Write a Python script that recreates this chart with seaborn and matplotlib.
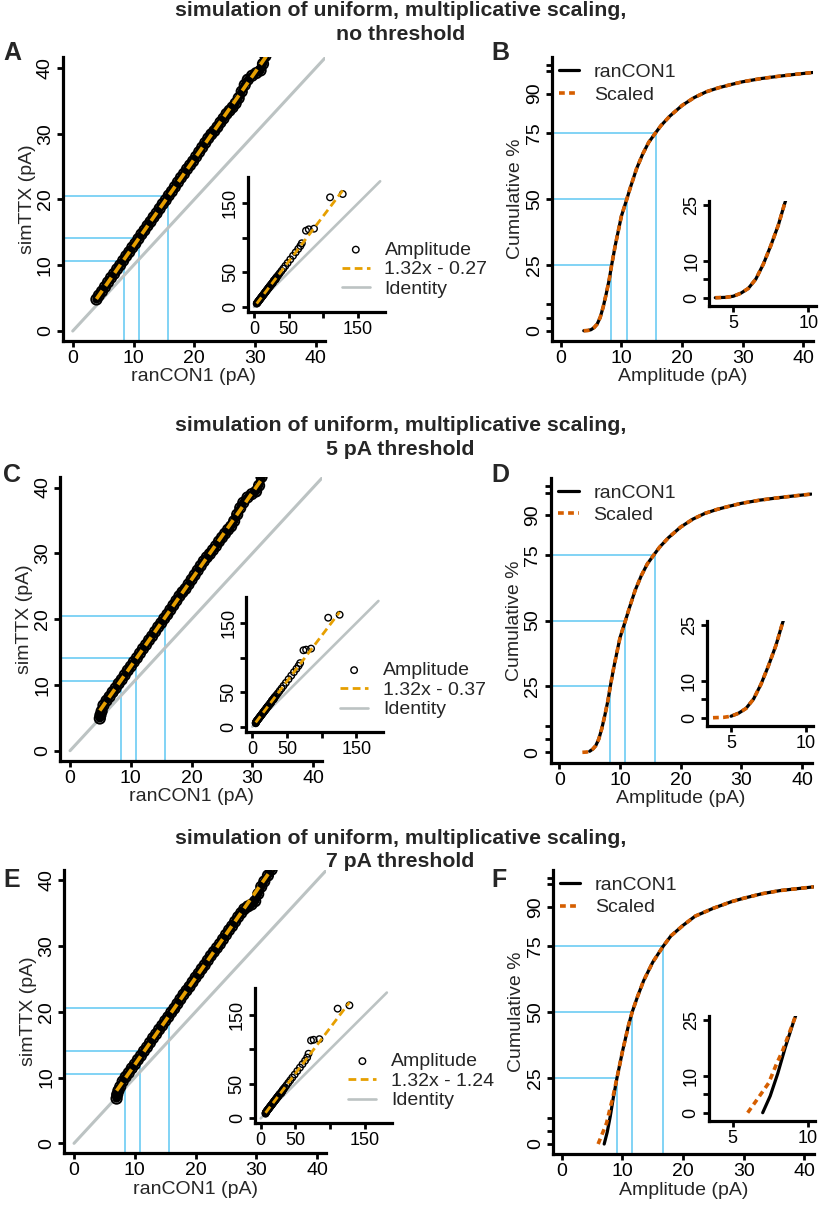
import numpy as np
import matplotlib
matplotlib.use('Agg')
import matplotlib.pyplot as plt
import seaborn as sns

# ---- Q-Q data: ranCON1 amplitudes (x) vs simulated TTX amplitudes (y) ----
# panel A, no threshold
a_con = [3.9, 4.3, 4.8, 5.3, 5.8, 6.3, 6.8, 7.3, 7.8, 8.3, 8.8, 9.3, 9.8, 10.3, 10.8, 11.3,
         11.8, 12.3, 12.8, 13.3, 13.8, 14.3, 14.8, 15.3, 15.8, 16.3, 16.8, 17.3, 17.8, 18.3,
         18.8, 19.3, 19.8, 20.3, 20.8, 21.3, 21.8, 22.3, 22.8, 23.3, 23.8, 24.3, 24.8, 25.3,
         25.8, 26.3, 26.8, 27.3, 27.8, 28.3, 28.8, 29.5, 30.2, 30.9, 31.3, 31.7, 32.4, 33.6,
         35.2, 37.1, 39.6, 42.3, 45.2, 48.5, 52.4, 56.3, 60.1, 63.8, 66.9, 69.0,
         75.0, 79.0, 86.6, 109.7, 128.0]
a_ttx = [4.8, 5.4, 6.0, 6.7, 7.4, 8.1, 8.7, 9.4, 10.0, 10.7, 11.4, 12.0, 12.7, 13.3, 14.0, 14.7,
         15.3, 16.0, 16.6, 17.3, 17.9, 18.6, 19.3, 19.9, 20.6, 21.2, 21.9, 22.6, 23.3, 23.9,
         24.6, 25.2, 25.8, 26.5, 27.2, 27.9, 28.6, 29.3, 29.9, 30.4, 31.0, 31.7, 32.3, 33.0,
         33.5, 34.0, 34.6, 35.4, 36.4, 37.4, 38.2, 38.8, 39.2, 39.6, 40.6, 41.8, 42.7, 44.1,
         46.2, 48.7, 52.0, 55.5, 59.4, 63.7, 68.9, 74.1, 79.1, 84.0, 88.3, 92.2,
         110.4, 112.4, 113.3, 158.7, 163.5]

# panel C, 5 pA threshold
c_con = [4.9, 5.0, 5.2, 5.5, 6.0, 6.5, 7.0, 7.5, 8.0, 8.5, 9.0, 9.5, 10.0, 10.5, 11.0, 11.5,
         12.0, 12.5, 13.0, 13.5, 14.0, 14.5, 15.0, 15.5, 16.0, 16.5, 17.0, 17.5, 18.0, 18.5,
         19.0, 19.5, 20.0, 20.5, 21.0, 21.5, 22.0, 22.5, 23.0, 23.5, 24.0, 24.5, 25.0, 25.5,
         26.0, 26.5, 27.0, 27.5, 28.0, 28.5, 29.2, 29.9, 30.6, 31.1, 31.5, 32.2, 33.4, 35.0,
         37.0, 39.5, 42.2, 45.1, 48.4, 52.3, 56.2, 60.0, 63.7, 66.8, 69.0,
         73.8, 77.6, 84.8, 109.5, 126.0]
c_ttx = [4.9, 5.4, 6.0, 6.9, 7.6, 8.2, 8.9, 9.5, 10.2, 10.8, 11.5, 12.2, 12.8, 13.5, 14.1, 14.8,
         15.5, 16.1, 16.8, 17.4, 18.1, 18.8, 19.4, 20.1, 20.7, 21.4, 22.1, 22.8, 23.5, 24.1,
         24.6, 25.3, 26.0, 26.7, 27.4, 28.1, 28.8, 29.4, 29.9, 30.5, 31.1, 31.8, 32.4, 33.0,
         33.6, 34.1, 34.9, 35.9, 36.9, 37.7, 38.5, 39.0, 39.4, 40.3, 41.6, 42.5, 43.9, 45.9,
         48.4, 51.8, 55.3, 59.2, 63.5, 68.7, 73.9, 78.9, 83.8, 88.1, 92.0,
         110.6, 111.5, 113.0, 157.7, 162.0]

# panel E, 7 pA threshold
e_con = [7.0, 7.1, 7.3, 7.6, 8.0, 8.5, 9.0, 9.5, 10.0, 10.5, 11.0, 11.5, 12.0, 12.5, 13.0,
         13.5, 14.0, 14.5, 15.0, 15.5, 16.0, 16.5, 17.0, 17.5, 18.0, 18.5, 19.0, 19.5, 20.0,
         20.5, 21.0, 21.5, 22.0, 22.5, 23.0, 23.5, 24.0, 24.5, 25.0, 25.5, 26.0, 26.5, 27.0,
         27.5, 28.0, 28.6, 29.2, 29.8, 30.3, 30.8, 31.3, 31.9, 32.5, 33.4, 35.0, 37.2, 39.8,
         42.6, 45.6, 49.0, 52.8, 56.6, 60.3, 64.0, 67.0, 69.0,
         72.6, 76.4, 84.7, 111.0, 128.0]
e_ttx = [6.8, 7.4, 8.0, 8.6, 9.4, 10.1, 10.7, 11.4, 12.0, 12.7, 13.3, 14.0, 14.6, 15.3, 16.0,
         16.6, 17.3, 17.9, 18.6, 19.2, 19.9, 20.5, 21.2, 21.9, 22.6, 23.2, 23.8, 24.5, 25.2,
         25.8, 26.5, 27.1, 27.8, 28.5, 29.1, 29.7, 30.3, 31.0, 31.7, 32.4, 33.0, 33.7, 34.4,
         35.0, 35.6, 36.0, 36.3, 36.8, 37.9, 39.0, 39.8, 40.7, 41.6, 42.8, 44.9, 47.8, 51.3,
         55.0, 59.0, 63.4, 68.5, 73.5, 78.4, 83.4, 88.0, 93.5,
         112.7, 113.7, 114.6, 158.7, 163.5]

fit_slope = [1.32, 1.32, 1.32]
fit_intercept = [-0.27, -0.37, -1.24]
fit_labels = ['1.32x - 0.27', '1.32x - 0.37', '1.32x - 1.24']

identity_main = [0, 45]
identity_inset = [0, 182]

# quartile guide lines on the Q-Q panels
qq_quart_x = [8.4, 10.9, 15.7]
qq_quart_y = [10.6, 14.1, 20.5]

# ---- cumulative distributions ----
cdf_amp = [3.8, 4.5, 5.0, 5.5, 6.0, 6.5, 7.0, 7.5, 8.0, 8.4, 9.0, 9.5, 10.0, 10.9, 11.5, 12.5,
           13.5, 14.5, 15.6, 16.5, 18.0, 20.0, 22.0, 24.0, 26.0, 28.0, 30.0, 33.0, 36.0, 39.0, 41.5]
cdf_pct = [0.0, 0.1, 0.4, 1.2, 2.5, 5.0, 9.0, 14.0, 19.5, 25.0, 32.5, 38.0, 43.5, 50.0, 54.5, 61.5,
           67.0, 71.5, 75.0, 77.8, 81.5, 85.5, 88.5, 90.7, 92.2, 93.4, 94.5, 95.7, 96.6, 97.4, 98.0]

f_con_amp = [7.0, 7.5, 8.0, 8.5, 9.1, 10.0, 11.0, 11.6, 12.5, 13.5, 15.0, 16.7, 18.0, 20.0,
             22.0, 25.0, 28.0, 30.0, 33.0, 36.0, 41.5]
f_con_pct = [0.0, 4.5, 10.5, 17.5, 25.0, 35.0, 45.0, 50.0, 56.0, 62.0, 69.0, 75.0, 79.0, 83.0,
             86.5, 89.5, 92.0, 93.3, 95.0, 96.2, 97.6]
f_scl_low_amp = [6.0, 6.6, 7.4, 7.9, 8.35]
f_scl_low_pct = [0.0, 3.4, 8.0, 12.9, 16.9]

cdf_quart_pct = [25, 50, 75]
cdf_quart_x = [[8.3, 10.9, 15.7], [8.3, 10.9, 15.7], [9.1, 11.6, 16.7]]

titles = ['no threshold', '5 pA threshold', '7 pA threshold']

# ---- style ----
sns.set_style('ticks')
plt.rcParams['font.family'] = ['Liberation Sans', 'DejaVu Sans']
plt.rcParams['axes.edgecolor'] = 'black'

BLUE = '#5fc8f3'
ORANGE = '#e69f00'
VERMIL = '#d55e00'
GREY = '#bcc3c3'

W, H = 820, 1206
fig = plt.figure(figsize=(W / 100, H / 100), dpi=100)


def add_ax(left, top, right, bottom):
    return fig.add_axes([left / W, 1 - bottom / H, (right - left) / W, (bottom - top) / H])


def style_axes(ax, fs=14):
    sns.despine(ax=ax)
    for s in ['left', 'bottom']:
        ax.spines[s].set_linewidth(2.3)
        ax.spines[s].set_color('black')
    ax.tick_params(width=2.0, length=4.5, pad=2, labelsize=fs, color='black', labelcolor='black')
    ax.tick_params(axis='y', labelrotation=90)
    for lbl in ax.get_yticklabels():
        lbl.set_va('center')
    ax.set_facecolor('none')


def draw_qq(ax, ins, x, y, k, leg_xy):
    xlo, ylo = -1.6, -1.5
    ax.vlines(qq_quart_x, ymin=ylo, ymax=qq_quart_y, color=BLUE, lw=1.1, zorder=1)
    ax.hlines(qq_quart_y, xmin=xlo, xmax=qq_quart_x, color=BLUE, lw=1.1, zorder=1)
    fit_x = [min(x), max(x)]
    fit_y = [fit_slope[k] * v + fit_intercept[k] for v in fit_x]
    for a, big in [(ax, True), (ins, False)]:
        ident = identity_main if big else identity_inset
        sns.lineplot(x=ident, y=ident, ax=a, color=GREY, lw=2.2 if big else 1.9,
                     estimator=None, sort=False, zorder=2, label='Identity')
        if big:
            sns.lineplot(x=x, y=y, ax=a, color='black', lw=6.0, estimator=None,
                         sort=False, zorder=3)
        sns.scatterplot(x=x, y=y, ax=a, s=55 if big else 22, marker='o', facecolor='none',
                        edgecolor='black', linewidth=1.4 if big else 1.0, zorder=4,
                        label='Amplitude')
        sns.lineplot(x=fit_x, y=fit_y, ax=a, color=ORANGE, lw=2.6 if big else 2.0,
                     linestyle=(0, (2.8, 1.6)), estimator=None, sort=False, zorder=5,
                     label=fit_labels[k])
    if ax.get_legend():
        ax.get_legend().remove()
    ax.set_xlim(xlo, 41.5)
    ax.set_ylim(ylo, 41.6)
    ax.set_xticks([0, 10, 20, 30, 40])
    ax.set_yticks([0, 10, 20, 30, 40])
    ax.set_xlabel('ranCON1 (pA)', fontsize=14, labelpad=1)
    ax.set_ylabel('simTTX (pA)', fontsize=14, labelpad=1)
    style_axes(ax)
    ins.set_xlim(-8.5, 189)
    ins.set_ylim(-7, 188)
    ins.set_xticks([0, 50, 100, 150], ['0', '50', '', '150'])
    ins.set_yticks([0, 50, 100, 150], ['0', '50', '', '150'])
    ins.set_xlabel('')
    ins.set_ylabel('')
    style_axes(ins, fs=13)
    handles = [ins.collections[-1], ins.lines[-1], ins.lines[0]]
    labels = ['Amplitude', fit_labels[k], 'Identity']
    ins.legend(handles, labels, loc='center left',
               bbox_to_anchor=(leg_xy[0] / W, 1 - leg_xy[1] / H), bbox_transform=fig.transFigure,
               frameon=False, fontsize=14, handlelength=1.45, handletextpad=0.75,
               labelspacing=0.1, borderpad=0, borderaxespad=0)


def draw_cdf(ax, ins, con_amp, con_pct, scl_amp, scl_pct, qx, leg_xy):
    xlo, ylo = -1.45, -3.9
    ax.vlines(qx, ymin=ylo, ymax=cdf_quart_pct, color=BLUE, lw=1.1, zorder=1)
    ax.hlines(cdf_quart_pct, xmin=xlo, xmax=qx, color=BLUE, lw=1.1, zorder=1)
    for a in [ax, ins]:
        sns.lineplot(x=con_amp, y=con_pct, ax=a, color='black', lw=2.3, estimator=None,
                     sort=False, zorder=3, label='ranCON1')
        sns.lineplot(x=scl_amp, y=scl_pct, ax=a, color=VERMIL, lw=2.6,
                     linestyle=(0, (1.6, 1.2)), estimator=None, sort=False, zorder=4,
                     label='Scaled')
    if ins.get_legend():
        ins.get_legend().remove()
    ax.set_xlim(xlo, 41.6)
    ax.set_ylim(ylo, 104)
    ax.set_xticks([0, 10, 20, 30, 40])
    ax.set_yticks([0, 5, 10, 25, 50, 75, 90, 98.5, 101],
                  ['0', '', '', '25', '50', '75', '90', '', ''])
    ax.set_xlabel('Amplitude (pA)', fontsize=14, labelpad=1)
    ax.set_ylabel('Cumulative %', fontsize=14, labelpad=1)
    style_axes(ax)
    ins.set_xlim(3.4, 10.5)
    ins.set_ylim(-2.2, 26)
    ins.set_xticks([5, 10])
    ins.set_yticks([0, 5, 10, 25], ['0', '', '10', '25'])
    ins.set_xlabel('')
    ins.set_ylabel('')
    style_axes(ins, fs=13)
    ax.legend(ax.lines[-2:], ['ranCON1', 'Scaled'], loc='center left',
              bbox_to_anchor=(leg_xy[0] / W, 1 - leg_xy[1] / H), bbox_transform=fig.transFigure,
              frameon=False, fontsize=14, handlelength=1.05, handletextpad=0.75,
              labelspacing=0.25, borderpad=0, borderaxespad=0)


# layout in pixels: (main qq, inset qq, main cdf, inset cdf)
rows = [
    dict(qq=(63, 57.3, 325, 340.9), qqi=(248.1, 177.1, 385, 311.8),
         cdf=(551.9, 56.7, 813.2, 341), cdfi=(709.3, 201, 815.8, 305.9),
         qleg=(341.7, 269.5), cleg=(559, 83.5), t1=16.5, t2=40, lab=60),
    dict(qq=(60.3, 477, 322.3, 760.6), qqi=(246.4, 596.8, 383.3, 731.5),
         cdf=(550.5, 478.3, 811.8, 762.6), cdfi=(707, 621, 813.5, 725.9),
         qleg=(340, 690), cleg=(558.3, 504), t1=431, t2=455, lab=481.5),
    dict(qq=(64.3, 869.6, 326.3, 1153.2), qqi=(254.8, 988.4, 391.7, 1123.2),
         cdf=(552.9, 870, 814.2, 1154.3), cdfi=(708.7, 1016, 815.2, 1120.9),
         qleg=(348.3, 1081), cleg=(560, 896.3), t1=844, t2=867, lab=886.7),
]
qq_data = [(a_con, a_ttx), (c_con, c_ttx), (e_con, e_ttx)]
cdf_data = [
    (cdf_amp, cdf_pct, cdf_amp, cdf_pct),
    (cdf_amp[2:], cdf_pct[2:], cdf_amp, cdf_pct),
    (f_con_amp, f_con_pct, f_scl_low_amp + f_con_amp[4:], f_scl_low_pct + f_con_pct[4:]),
]
letters = [('A', 'B'), ('C', 'D'), ('E', 'F')]

for k, r in enumerate(rows):
    ax_q = add_ax(*r['qq'])
    ax_qi = add_ax(*r['qqi'])
    ax_c = add_ax(*r['cdf'])
    ax_ci = add_ax(*r['cdfi'])
    draw_qq(ax_q, ax_qi, qq_data[k][0], qq_data[k][1], k, r['qleg'])
    ca, cp, sa, sp = cdf_data[k]
    draw_cdf(ax_c, ax_ci, ca, cp, sa, sp, cdf_quart_x[k], r['cleg'])

    fig.text(400.5 / W, 1 - r['t1'] / H, 'simulation of uniform, multiplicative scaling,',
             ha='center', va='baseline', fontsize=15.3, fontweight='bold')
    fig.text(400.5 / W, 1 - r['t2'] / H, titles[k],
             ha='center', va='baseline', fontsize=15.3, fontweight='bold')
    fig.text(3 / W, 1 - r['lab'] / H, letters[k][0], ha='left', va='baseline',
             fontsize=18, fontweight='bold')
    fig.text(491 / W, 1 - r['lab'] / H, letters[k][1], ha='left', va='baseline',
             fontsize=18, fontweight='bold')

fig.savefig('out.png', dpi=100)
